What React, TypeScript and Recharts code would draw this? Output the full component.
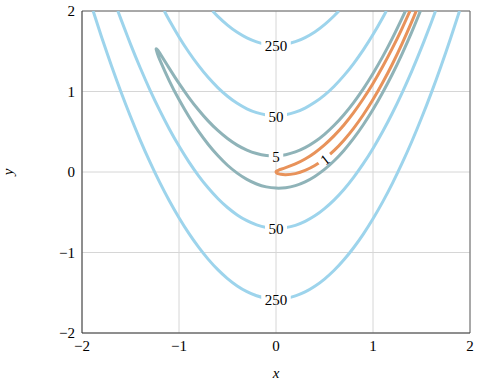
import React from 'react';
import { ComposedChart, Line, Scatter, XAxis, YAxis, CartesianGrid, ReferenceLine, Label } from 'recharts';

// contour lines of the banana shaped valley
const level250Top = [
  { x: -0.653, y: 2 }, { x: -0.6, y: 1.933 }, { x: -0.5, y: 1.824 }, { x: -0.4, y: 1.735 },
  { x: -0.3, y: 1.666 }, { x: -0.2, y: 1.617 }, { x: -0.1, y: 1.587 }, { x: 0, y: 1.578 },
  { x: 0.1, y: 1.589 }, { x: 0.2, y: 1.619 }, { x: 0.3, y: 1.67 }, { x: 0.4, y: 1.74 },
  { x: 0.5, y: 1.83 }, { x: 0.6, y: 1.941 }, { x: 0.648, y: 2 },
];

const level250Bottom = [
  { x: -1.885, y: 2 }, { x: -1.8, y: 1.684 }, { x: -1.7, y: 1.332 }, { x: -1.6, y: 1.0 },
  { x: -1.5, y: 0.689 }, { x: -1.4, y: 0.397 }, { x: -1.3, y: 0.126 }, { x: -1.2, y: -0.126 },
  { x: -1.1, y: -0.357 }, { x: -1.0, y: -0.568 }, { x: -0.9, y: -0.76 }, { x: -0.8, y: -0.931 },
  { x: -0.7, y: -1.082 }, { x: -0.6, y: -1.213 }, { x: -0.5, y: -1.324 }, { x: -0.4, y: -1.415 },
  { x: -0.3, y: -1.486 }, { x: -0.2, y: -1.537 }, { x: -0.1, y: -1.567 }, { x: 0, y: -1.578 },
  { x: 0.1, y: -1.569 }, { x: 0.2, y: -1.539 }, { x: 0.3, y: -1.49 }, { x: 0.4, y: -1.42 },
  { x: 0.5, y: -1.33 }, { x: 0.6, y: -1.221 }, { x: 0.7, y: -1.091 }, { x: 0.8, y: -0.941 },
  { x: 0.9, y: -0.771 }, { x: 1.0, y: -0.581 }, { x: 1.1, y: -0.371 }, { x: 1.2, y: -0.141 },
  { x: 1.3, y: 0.109 }, { x: 1.4, y: 0.379 }, { x: 1.5, y: 0.67 }, { x: 1.6, y: 0.98 },
  { x: 1.7, y: 1.311 }, { x: 1.8, y: 1.661 }, { x: 1.892, y: 2 },
];

const level50Top = [
  { x: -1.1515, y: 2 }, { x: -1.1, y: 1.885 }, { x: -1.0, y: 1.678 }, { x: -0.9, y: 1.491 },
  { x: -0.8, y: 1.324 }, { x: -0.7, y: 1.176 }, { x: -0.6, y: 1.049 }, { x: -0.5, y: 0.941 },
  { x: -0.4, y: 0.853 }, { x: -0.3, y: 0.785 }, { x: -0.2, y: 0.737 }, { x: -0.1, y: 0.709 },
  { x: 0, y: 0.7 }, { x: 0.1, y: 0.711 }, { x: 0.2, y: 0.743 }, { x: 0.3, y: 0.794 },
  { x: 0.4, y: 0.865 }, { x: 0.5, y: 0.955 }, { x: 0.6, y: 1.066 }, { x: 0.7, y: 1.197 },
  { x: 0.8, y: 1.347 }, { x: 0.9, y: 1.517 }, { x: 1.0, y: 1.707 }, { x: 1.1, y: 1.917 },
  { x: 1.137, y: 2 },
];

const level50Bottom = [
  { x: -1.63, y: 2 }, { x: -1.6, y: 1.902 }, { x: -1.5, y: 1.589 }, { x: -1.4, y: 1.295 },
  { x: -1.3, y: 1.021 }, { x: -1.2, y: 0.768 }, { x: -1.1, y: 0.535 }, { x: -1.0, y: 0.322 },
  { x: -0.9, y: 0.129 }, { x: -0.8, y: -0.044 }, { x: -0.7, y: -0.196 }, { x: -0.6, y: -0.329 },
  { x: -0.5, y: -0.441 }, { x: -0.4, y: -0.533 }, { x: -0.3, y: -0.605 }, { x: -0.2, y: -0.657 },
  { x: -0.1, y: -0.689 }, { x: 0, y: -0.7 }, { x: 0.1, y: -0.691 }, { x: 0.2, y: -0.663 },
  { x: 0.3, y: -0.614 }, { x: 0.4, y: -0.545 }, { x: 0.5, y: -0.455 }, { x: 0.6, y: -0.346 },
  { x: 0.7, y: -0.217 }, { x: 0.8, y: -0.067 }, { x: 0.9, y: 0.103 }, { x: 1.0, y: 0.293 },
  { x: 1.1, y: 0.503 }, { x: 1.2, y: 0.733 }, { x: 1.3, y: 0.984 }, { x: 1.4, y: 1.254 },
  { x: 1.5, y: 1.545 }, { x: 1.6, y: 1.855 }, { x: 1.6445, y: 2 },
];

const level5 = [
  { x: 1.334, y: 2 }, { x: 1.3, y: 1.912 }, { x: 1.2, y: 1.663 }, { x: 1.1, y: 1.433 },
  { x: 1.0, y: 1.224 }, { x: 0.9, y: 1.033 }, { x: 0.8, y: 0.863 }, { x: 0.7, y: 0.712 },
  { x: 0.6, y: 0.58 }, { x: 0.5, y: 0.468 }, { x: 0.4, y: 0.375 }, { x: 0.3, y: 0.302 },
  { x: 0.2, y: 0.249 }, { x: 0.1, y: 0.215 }, { x: 0, y: 0.2 }, { x: -0.1, y: 0.205 },
  { x: -0.2, y: 0.229 }, { x: -0.3, y: 0.272 }, { x: -0.4, y: 0.334 }, { x: -0.5, y: 0.416 },
  { x: -0.6, y: 0.516 }, { x: -0.7, y: 0.635 }, { x: -0.8, y: 0.773 }, { x: -0.9, y: 0.928 },
  { x: -1.0, y: 1.1 }, { x: -1.1, y: 1.287 }, { x: -1.2, y: 1.48 }, { x: -1.22, y: 1.515 },
  { x: -1.236, y: 1.528 },
  { x: -1.22, y: 1.462 }, { x: -1.2, y: 1.4 }, { x: -1.1, y: 1.133 }, { x: -1.0, y: 0.9 },
  { x: -0.9, y: 0.692 }, { x: -0.8, y: 0.507 }, { x: -0.7, y: 0.345 }, { x: -0.6, y: 0.204 },
  { x: -0.5, y: 0.084 }, { x: -0.4, y: -0.014 }, { x: -0.3, y: -0.092 }, { x: -0.2, y: -0.149 },
  { x: -0.1, y: -0.185 }, { x: 0, y: -0.2 }, { x: 0.1, y: -0.195 }, { x: 0.2, y: -0.169 },
  { x: 0.3, y: -0.122 }, { x: 0.4, y: -0.055 }, { x: 0.5, y: 0.032 }, { x: 0.6, y: 0.14 },
  { x: 0.7, y: 0.268 }, { x: 0.8, y: 0.417 }, { x: 0.9, y: 0.587 }, { x: 1.0, y: 0.776 },
  { x: 1.1, y: 0.987 }, { x: 1.2, y: 1.217 }, { x: 1.3, y: 1.468 }, { x: 1.4, y: 1.74 },
  { x: 1.489, y: 2 },
];

const level1 = [
  { x: 1.3812, y: 2 }, { x: 1.3, y: 1.785 }, { x: 1.2, y: 1.538 }, { x: 1.1, y: 1.31 },
  { x: 1.0, y: 1.1 }, { x: 0.9, y: 0.91 }, { x: 0.8, y: 0.738 }, { x: 0.7, y: 0.585 },
  { x: 0.6, y: 0.452 }, { x: 0.5, y: 0.337 }, { x: 0.4, y: 0.24 }, { x: 0.3, y: 0.161 },
  { x: 0.2, y: 0.1 }, { x: 0.1, y: 0.054 }, { x: 0.05, y: 0.034 }, { x: 0.03, y: 0.025 },
  { x: 0.01, y: 0.014 }, { x: 0, y: 0 }, { x: 0.01, y: -0.014 }, { x: 0.03, y: -0.023 },
  { x: 0.05, y: -0.029 }, { x: 0.1, y: -0.034 }, { x: 0.2, y: -0.02 }, { x: 0.3, y: 0.019 },
  { x: 0.4, y: 0.08 }, { x: 0.5, y: 0.163 }, { x: 0.6, y: 0.268 }, { x: 0.7, y: 0.395 },
  { x: 0.8, y: 0.542 }, { x: 0.9, y: 0.711 }, { x: 1.0, y: 0.9 }, { x: 1.1, y: 1.111 },
  { x: 1.2, y: 1.342 }, { x: 1.3, y: 1.595 }, { x: 1.4, y: 1.868 }, { x: 1.4455, y: 2 },
];

const contourLabels = [
  { x: 0, y: 1.578, text: '250', angle: 0 },
  { x: 0, y: 0.7, text: '50', angle: 0 },
  { x: 0, y: 0.2, text: '5', angle: 0 },
  { x: 0, y: -0.7, text: '50', angle: 0 },
  { x: 0, y: -1.578, text: '250', angle: 0 },
  { x: 0.5, y: 0.163, text: '1', angle: -38 },
];

const xTicks = [-2, -1, 0, 1, 2];
const yTicks = [-2, -1, 0, 1, 2];

const blue = '#9dd4ec';
const teal = '#8fb3b8';
const orange = '#e8925a';
const gridColor = '#d6d6d6';
const font = "'Liberation Serif', 'DejaVu Serif', serif";

const fmt = (v: number) => (v < 0 ? '\u2212' + Math.abs(v) : String(v));

const ContourLabel = (props: any) => {
  const { cx, cy, payload } = props;
  const w = payload.text.length * 7.5 + 7;
  return (
    <g transform={`rotate(${payload.angle} ${cx} ${cy})`}>
      <rect x={cx - w / 2} y={cy - 4} width={w} height={8} fill="#fff" />
      {payload.angle === 0 && (
        <line x1={cx} x2={cx} y1={cy - 4} y2={cy + 4} stroke={gridColor} strokeWidth={1} />
      )}
      <text x={cx} y={cy + 1} textAnchor="middle" dominantBaseline="central"
        style={{ fontFamily: font, fontSize: 15 }} fill="#000">
        {payload.text}
      </text>
    </g>
  );
};

const tickStyle = { fill: '#000', fontSize: 15, style: { fontFamily: font } };

export default function App() {
  return (
    <div style={{ position: 'absolute', left: 0, top: 0, fontFamily: font }}>
      <ComposedChart width={480} height={384} margin={{ top: 11, right: 10, left: 0, bottom: 0 }}
        style={{ fontFamily: font }}>
        <CartesianGrid stroke={gridColor} strokeWidth={1} />
        <XAxis type="number" dataKey="x" domain={[-2, 2]} ticks={xTicks} allowDataOverflow
          tickFormatter={fmt} tickLine={false} tickSize={0} tickMargin={7} height={51}
          axisLine={{ stroke: '#333', strokeWidth: 1 }}
          tick={tickStyle}>
          <Label value="x" position="insideBottom" offset={6}
            style={{ fontFamily: font, fontStyle: 'italic', fontSize: 15, fill: '#000' }} />
        </XAxis>
        <YAxis type="number" dataKey="y" domain={[-2, 2]} ticks={yTicks} allowDataOverflow
          tickFormatter={fmt} tickLine={false} tickSize={0} tickMargin={7} width={82}
          axisLine={{ stroke: '#333', strokeWidth: 1 }}
          tick={tickStyle}>
          <Label value="y" position="insideLeft" angle={-90} offset={8}
            style={{ fontFamily: font, fontStyle: 'italic', fontSize: 15, fill: '#000', textAnchor: 'middle' }} />
        </YAxis>
        <ReferenceLine y={2} stroke="#666" strokeWidth={1} />
        <ReferenceLine x={2} stroke="#666" strokeWidth={1} />
        <Line data={level250Top} dataKey="y" type="natural" stroke={blue} strokeWidth={3} dot={false} isAnimationActive={false} />
        <Line data={level250Bottom} dataKey="y" type="natural" stroke={blue} strokeWidth={3} dot={false} isAnimationActive={false} />
        <Line data={level50Top} dataKey="y" type="natural" stroke={blue} strokeWidth={3} dot={false} isAnimationActive={false} />
        <Line data={level50Bottom} dataKey="y" type="natural" stroke={blue} strokeWidth={3} dot={false} isAnimationActive={false} />
        <Line data={level5} dataKey="y" type="natural" stroke={teal} strokeWidth={3} dot={false} isAnimationActive={false} />
        <Line data={level1} dataKey="y" type="natural" stroke={orange} strokeWidth={3} dot={false} isAnimationActive={false} />
        <Scatter data={contourLabels} shape={ContourLabel} isAnimationActive={false} />
      </ComposedChart>
    </div>
  );
}
